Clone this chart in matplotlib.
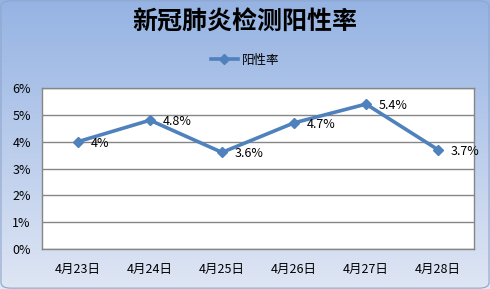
import numpy as np
import matplotlib.pyplot as plt
from matplotlib.patches import FancyBboxPatch
from matplotlib.colors import LinearSegmentedColormap

plt.rcParams['font.family'] = ['Noto Sans CJK SC', 'DejaVu Sans']

dates = ['4月23日', '4月24日', '4月25日', '4月26日', '4月27日', '4月28日']
rates = [4.0, 4.8, 3.6, 4.7, 5.4, 3.7]
labels = ['4%', '4.8%', '3.6%', '4.7%', '5.4%', '3.7%']
yticks = [0, 1, 2, 3, 4, 5, 6]

fig = plt.figure(figsize=(4.9, 2.89), dpi=100)

# gradient background
bg = fig.add_axes([0, 0, 1, 1], zorder=0)
grad = np.linspace(0, 1, 256).reshape(-1, 1)
cmap = LinearSegmentedColormap.from_list('bg', ['#95b3e3', '#dfe6f4'])
bg.imshow(grad, aspect='auto', cmap=cmap, extent=[0, 1, 0, 1], origin='upper')
bg.add_patch(FancyBboxPatch((0.002, 0.003), 0.996, 0.994,
                            boxstyle='round,pad=0,rounding_size=0.02',
                            fill=False, edgecolor='#8ea6cc', lw=0.8,
                            transform=bg.transAxes))
bg.set_xlim(0, 1)
bg.set_ylim(0, 1)
bg.axis('off')

# plot area: x 42..474, y 88..249 px
ax = fig.add_axes([42 / 490, 1 - 249 / 289, 432 / 490, 161 / 289], zorder=1)
ax.set_facecolor('white')
x = np.arange(len(dates))
ax.plot(x, rates, color='#4f81bd', lw=2.6, marker='D', ms=5.5,
        markeredgecolor='#4f81bd', label='阳性率')
for xi, yi, lb in zip(x, rates, labels):
    ax.annotate(lb, (xi, yi), xytext=(9, -1), textcoords='offset points',
                fontsize=9, va='center', ha='left', color='black')

ax.set_xlim(-0.5, len(dates) - 0.5)
ax.set_ylim(0, 6)
ax.set_yticks(yticks)
ax.set_yticklabels([f'{v}%' for v in yticks], fontsize=9)
ax.set_xticks(x)
ax.set_xticklabels(dates, fontsize=9)
ax.tick_params(axis='x', length=0, pad=10)
ax.tick_params(axis='y', length=0, pad=8)
ax.grid(axis='y', color='#868686', lw=1)
ax.set_axisbelow(True)
for s in ax.spines.values():
    s.set_color('#868686')
    s.set_linewidth(1)

fig.text(0.5, 1 - 23 / 289, '新冠肺炎检测阳性率', ha='center', va='center',
         fontsize=18, fontweight='bold')
ax.legend(loc='center', bbox_to_anchor=(0.5, 1 - 60 / 289), bbox_transform=fig.transFigure,
          frameon=False, fontsize=9, handlelength=2.2, handletextpad=0.3)

fig.savefig('out.png', dpi=100)
